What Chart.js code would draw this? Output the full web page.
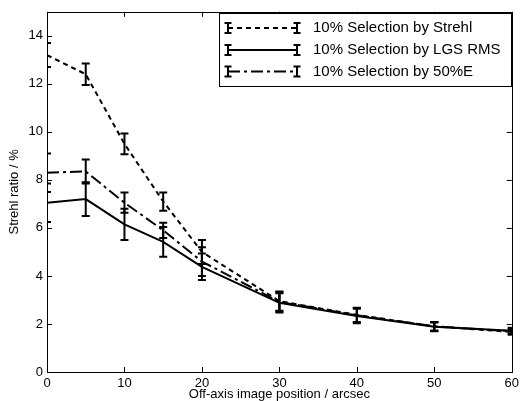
<!DOCTYPE html>
<html><head><meta charset="utf-8">
<script src="https://cdn.jsdelivr.net/npm/chart.js@4/dist/chart.umd.min.js"></script>
<style>html,body{margin:0;padding:0;background:#fff}#wrap{width:523px;height:401px}</style>
</head><body><div id="wrap"><canvas id="c" width="523" height="401"></canvas></div>
<script>
const positions = [0, 5, 10, 15, 20, 30, 40, 50, 60];
const strehlSel = [13.2, 12.4, 9.5, 7.1, 5.0, 2.95, 2.38, 1.9, 1.67];
const strehlErr = [0.5, 0.45, 0.43, 0.38, 0.5, 0.4, 0.3, 0.18, 0.12];
const lgsSel = [7.05, 7.2, 6.15, 5.42, 4.38, 2.88, 2.33, 1.88, 1.72];
const lgsErr = [0.8, 0.7, 0.65, 0.62, 0.55, 0.4, 0.3, 0.18, 0.12];
const eeSel = [8.3, 8.35, 7.05, 5.9, 4.6, 2.92, 2.36, 1.9, 1.7];
const eeErr = [0.8, 0.5, 0.42, 0.32, 0.6, 0.4, 0.3, 0.18, 0.12];
const seriesNames = ['10% Selection by Strehl', '10% Selection by LGS RMS', '10% Selection by 50%E'];
const xTicks = [0, 10, 20, 30, 40, 50, 60];
const yTicks = [0, 2, 4, 6, 8, 10, 12, 14];

const FONT = '"Liberation Sans", Arial, Helvetica, sans-serif';
const dashes = [[5, 4], [], [12, 4, 3, 4]];
const errs = [strehlErr, lgsErr, eeErr];

function pts(ys) { return positions.map((x, i) => ({x: x, y: ys[i]})); }

const errorBars = {
  id: 'errorBars',
  afterDatasetsDraw(chart) {
    const {ctx, chartArea: a, scales: {x, y}} = chart;
    ctx.save();
    ctx.beginPath(); ctx.rect(a.left, a.top, a.right - a.left, a.bottom - a.top); ctx.clip();
    ctx.strokeStyle = '#000'; ctx.lineWidth = 2; ctx.setLineDash([]);
    chart.data.datasets.forEach((ds, di) => {
      ds.data.forEach((p, i) => {
        const e = errs[di][i];
        const px = x.getPixelForValue(p.x);
        const y1 = y.getPixelForValue(p.y - e), y2 = y.getPixelForValue(p.y + e);
        ctx.beginPath();
        ctx.moveTo(px, y1); ctx.lineTo(px, y2);
        ctx.moveTo(px - 4, y1); ctx.lineTo(px + 4, y1);
        ctx.moveTo(px - 4, y2); ctx.lineTo(px + 4, y2);
        ctx.stroke();
      });
    });
    ctx.restore();
  }
};

const frame = {
  id: 'frame',
  afterDraw(chart) {
    const {ctx, chartArea: a, scales: {x, y}} = chart;
    ctx.save();
    ctx.strokeStyle = '#000'; ctx.lineWidth = 1; ctx.setLineDash([]);
    ctx.strokeRect(Math.round(a.left) + 0.5, Math.round(a.top) + 0.5, Math.round(a.right - a.left), Math.round(a.bottom - a.top));
    const L = 5;
    ctx.beginPath();
    xTicks.forEach(v => {
      const px = Math.round(x.getPixelForValue(v)) + 0.5;
      ctx.moveTo(px, a.bottom); ctx.lineTo(px, a.bottom - L);
      ctx.moveTo(px, a.top); ctx.lineTo(px, a.top + L);
    });
    yTicks.forEach(v => {
      const py = Math.round(y.getPixelForValue(v)) + 0.5;
      ctx.moveTo(a.left, py); ctx.lineTo(a.left + L, py);
      ctx.moveTo(a.right, py); ctx.lineTo(a.right - L, py);
    });
    ctx.stroke();

    // legend
    const bx = 219.5, by = 13.5, bw = 292, bh = 73;
    ctx.fillStyle = '#fff';
    ctx.fillRect(bx, by, bw, bh);
    ctx.strokeRect(bx, by, bw, bh);
    ctx.font = '15px ' + FONT;
    ctx.textBaseline = 'middle'; ctx.textAlign = 'left';
    const rows = [28, 50, 71.5];
    seriesNames.forEach((name, i) => {
      const ry = rows[i];
      ctx.lineWidth = 2;
      ctx.setLineDash(dashes[i]);
      ctx.beginPath(); ctx.moveTo(228, ry); ctx.lineTo(297, ry); ctx.stroke();
      ctx.setLineDash([]);
      ctx.beginPath();
      [228, 297].forEach(ex => {
        ctx.moveTo(ex, ry - 5); ctx.lineTo(ex, ry + 5);
        ctx.moveTo(ex - 3.5, ry - 5); ctx.lineTo(ex + 3.5, ry - 5);
        ctx.moveTo(ex - 3.5, ry + 5); ctx.lineTo(ex + 3.5, ry + 5);
      });
      ctx.stroke();
      ctx.fillStyle = '#000';
      ctx.fillText(name, 313, ry);
    });
    ctx.restore();
  }
};

new Chart(document.getElementById('c'), {
  type: 'line',
  data: {
    datasets: [strehlSel, lgsSel, eeSel].map((ys, i) => ({
      label: seriesNames[i],
      data: pts(ys),
      borderColor: '#000',
      borderWidth: 2,
      borderDash: dashes[i],
      pointRadius: 0,
      tension: 0,
      fill: false
    }))
  },
  options: {
    responsive: false,
    animation: false,
    devicePixelRatio: 1,
    layout: {padding: {left: 0, right: 8, top: 10, bottom: 0}},
    plugins: {legend: {display: false}, tooltip: {enabled: false}},
    scales: {
      x: {
        type: 'linear', min: 0, max: 60,
        afterBuildTicks: s => { s.ticks = xTicks.map(v => ({value: v})); },
        afterFit: s => { s.height = 29; },
        grid: {display: false, drawTicks: false},
        border: {display: false},
        ticks: {font: {family: FONT, size: 13}, color: '#000', padding: 4, maxRotation: 0},
        title: {display: true, text: 'Off-axis image position / arcsec', font: {family: FONT, size: 13, lineHeight: 1}, color: '#000', padding: {top: 0, bottom: 0}}
      },
      y: {
        type: 'linear', min: 0, max: 15,
        afterBuildTicks: s => { s.ticks = yTicks.map(v => ({value: v})); },
        afterFit: s => { s.width = 47; },
        grid: {display: false, drawTicks: false},
        border: {display: false},
        ticks: {font: {family: FONT, size: 13}, color: '#000', padding: 4},
        title: {display: true, text: 'Strehl ratio / %', font: {family: FONT, size: 13, lineHeight: 1}, color: '#000', padding: {top: 8, bottom: 0}}
      }
    }
  },
  plugins: [errorBars, frame]
});
</script></body></html>
